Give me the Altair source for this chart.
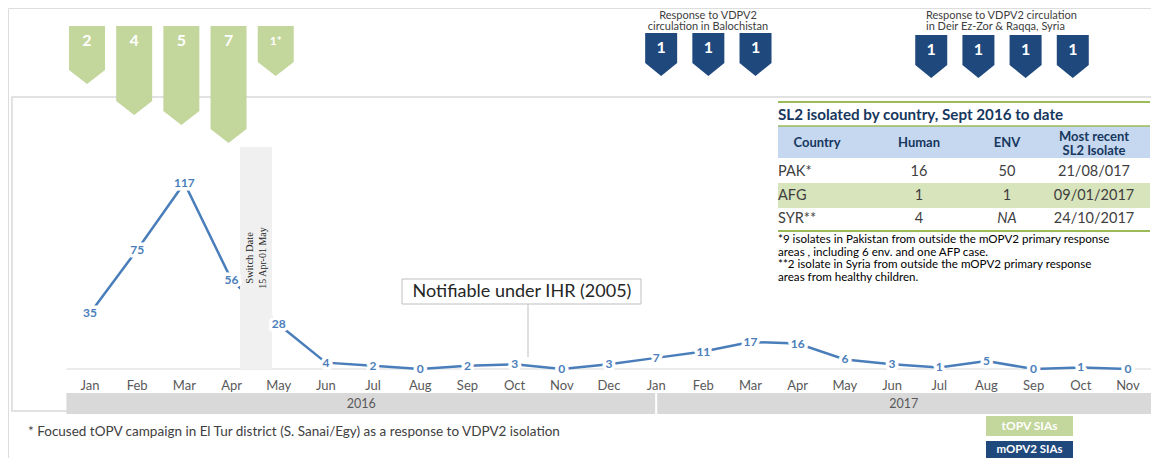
import altair as alt
import pandas as pd

# ---------------- data ----------------
months = ["Jan", "Feb", "Mar", "Apr", "May", "Jun", "Jul", "Aug", "Sep", "Oct", "Nov", "Dec",
          "Jan", "Feb", "Mar", "Apr", "May", "Jun", "Jul", "Aug", "Sep", "Oct", "Nov"]
cases = [35, 75, 117, 56, 28, 4, 2, 0, 2, 3, 0, 3, 7, 11, 17, 16, 6, 3, 1, 5, 0, 1, 0]
years = ["2016", "2017"]

topv_labels = ["2", "4", "5", "7", "1*"]
topv_month_idx = [0, 1, 2, 3, 4]
mopv_bal_labels = ["1", "1", "1"]
mopv_bal_month_idx = [12, 13, 14]
mopv_syr_labels = ["1", "1", "1", "1"]
mopv_syr_month_idx = [18, 19, 20, 21]

bal_caption = ["Response to VDPV2", "circulation in Balochistan"]
syr_caption = ["Response to VDPV2 circulation", "in Deir Ez-Zor & Raqqa, Syria"]
switch_lines = ["Switch Date", "15 Apr-01 May"]
notif_text = "Notifiable under IHR (2005)"

table_title = "SL2 isolated by country, Sept 2016 to date"
table_headers = ["Country", "Human", "ENV", "Most recent", "SL2 Isolate"]
table_countries = ["PAK*", "AFG", "SYR**"]
table_human = ["16", "1", "4"]
table_env = ["50", "1", "NA"]
table_recent = ["21/08/017", "09/01/2017", "24/10/2017"]
table_notes = ["*9 isolates in Pakistan from outside the mOPV2 primary response",
               "areas , including 6 env. and one AFP case.",
               "**2 isolate in Syria from outside the mOPV2 primary response",
               "areas from healthy children."]
footnote = "* Focused tOPV campaign in  El Tur district (S. Sanai/Egy) as a response to VDPV2 isolation"
legend_labels = ["tOPV SIAs", "mOPV2 SIAs"]

# ---------------- layout / style ----------------
W, H = 1143, 450
X0, STEP = 82.0, 47.18     # pixel of first month, pixels per month
Y0, PPU = 361.0, 1.59      # pixel of zero, pixels per case
BLUE_LINE = "#4a7ebb"
GREEN = "#c3d69b"
NAVY = "#1f497d"
FONT = "Lato"

xs = alt.Scale(domain=[-X0 / STEP, (W - X0) / STEP], nice=False, zero=False)
ys = alt.Scale(domain=[-(H - Y0) / PPU, Y0 / PPU], nice=False, zero=False)


def X(f):
    return alt.X(f, type="quantitative", scale=xs, axis=None)


def Yq(f):
    return alt.Y(f, type="quantitative", scale=ys, axis=None)


def text(t, x, y, **kw):
    kw.setdefault("font", FONT)
    return alt.Chart(pd.DataFrame({"t": [t]})).mark_text(**kw).encode(
        x=alt.value(x), y=alt.value(y), text="t:N")


def box(x1, x2, y1, y2, **kw):
    return alt.Chart(pd.DataFrame({"d": [0]})).mark_rect(**kw).encode(
        x=alt.value(x1), x2=alt.value(x2), y=alt.value(y1), y2=alt.value(y2))


def hrule(x1, x2, y, **kw):
    return alt.Chart(pd.DataFrame({"d": [0]})).mark_rule(**kw).encode(
        x=alt.value(x1), x2=alt.value(x2), y=alt.value(y))


def vrule(x, y1, y2, **kw):
    return alt.Chart(pd.DataFrame({"d": [0]})).mark_rule(**kw).encode(
        x=alt.value(x), y=alt.value(y1), y2=alt.value(y2))


layers = []

# chart area border
layers.append(box(4, 1150, 89, 403, fillOpacity=0, stroke="#d9d9d9", strokeWidth=1.5))

# year band
n = len(months)
df_year = pd.DataFrame({"year": years, "start": [-0.5, 12], "end": [12, n - 0.5]})
layers.append(alt.Chart(df_year).mark_rect(color="#d9d9d9").encode(
    x=X("start"), x2="end:Q", y=alt.value(385), y2=alt.value(406)))
layers.append(alt.Chart(pd.DataFrame({"m": [12]})).mark_rule(color="white", strokeWidth=2).encode(
    x=X("m"), y=alt.value(385), y2=alt.value(406)))
layers.append(alt.Chart(df_year).transform_calculate(mid="(datum.start + datum.end) / 2").mark_text(
    font=FONT, fontSize=12.5, color="#595959").encode(x=X("mid"), y=alt.value(396), text="year:N"))

# baseline
layers.append(alt.Chart(pd.DataFrame({"a": [-0.5], "b": [n - 0.5], "v": [0]})).mark_rule(
    color="#d9d9d9", strokeWidth=1).encode(x=X("a"), x2="b:Q", y=Yq("v")))

# line + month labels
df = pd.DataFrame({"m": list(range(n)), "month": months, "cases": cases,
                   "lab": [str(c) for c in cases]})
layers.append(alt.Chart(df).mark_line(color=BLUE_LINE, strokeWidth=2.5).encode(
    x=X("m"), y=Yq("cases")))
layers.append(alt.Chart(df).mark_text(font=FONT, fontSize=13, color="#595959").encode(
    x=X("m"), y=alt.value(378), text="month:N"))

# switch band
layers.append(alt.Chart(pd.DataFrame({"a": [3.18], "b": [3.86]})).mark_rect(color="#f0f0f0").encode(
    x=X("a"), x2="b:Q", y=alt.value(139), y2=alt.value(361)))
layers.append(text(switch_lines[0], 242, 250, font="Liberation Serif", fontSize=10.5, angle=270,
                   color="#262626"))
layers.append(text(switch_lines[1], 255, 250, font="Liberation Serif", fontSize=10, angle=270,
                   color="#262626"))

# data labels with white halo
layers.append(alt.Chart(df).mark_text(font=FONT, fontSize=12, fontWeight="bold", fill="white",
                                      stroke="white", strokeWidth=7, strokeJoin="round").encode(
    x=X("m"), y=Yq("cases"), text="lab:N"))
layers.append(alt.Chart(df).mark_text(font=FONT, fontSize=12, fontWeight="bold", color="#4a7ebb").encode(
    x=X("m"), y=Yq("cases"), text="lab:N"))

# notifiable box
layers.append(vrule(520, 296, 349, color="#bfbfbf", strokeWidth=1))
layers.append(box(394, 633, 271, 296, fill="white", stroke="#bfbfbf", strokeWidth=1))
layers.append(text(notif_text, 514, 284, fontSize=18, color="#262626"))

# table
TX0, TX1 = 770, 1142
HEAD = "#17375e"
layers.append(hrule(TX0, TX1, 94, color="#9bbb59", strokeWidth=2))
layers.append(text(table_title, TX0, 107, align="left", fontSize=15.2, fontWeight="bold", color=HEAD))
layers.append(box(TX0, TX1, 118, 150, fill="#c5d8f0"))
layers.append(hrule(TX0, TX1, 118, color="#9bbb59", strokeWidth=1.5))
layers.append(box(TX0, TX1, 175, 200, fill="#d8e4bc"))
layers.append(hrule(TX0, TX1, 223, color="#9bbb59", strokeWidth=2))
col_x = [809, 911, 999, 1086]
hk = dict(fontSize=13, fontWeight="bold", color=HEAD)
layers.append(text(table_headers[0], col_x[0], 135, **hk))
layers.append(text(table_headers[1], col_x[1], 135, **hk))
layers.append(text(table_headers[2], col_x[2], 135, **hk))
layers.append(text(table_headers[3], col_x[3], 129, **hk))
layers.append(text(table_headers[4], col_x[3], 143, **hk))
row_y = [164, 188, 211]
rk = dict(fontSize=14.5, color="#404040")
for i in range(len(table_countries)):
    layers.append(text(table_countries[i], TX0, row_y[i], align="left", **rk))
    layers.append(text(table_human[i], col_x[1], row_y[i], **rk))
    layers.append(text(table_env[i], col_x[2], row_y[i],
                       fontStyle="italic" if table_env[i] == "NA" else "normal", **rk))
    layers.append(text(table_recent[i], col_x[3], row_y[i], **rk))
note_y = [232, 244.5, 257, 269.5]
for i, line in enumerate(table_notes):
    layers.append(text(line, TX0, note_y[i], align="left", fontSize=11.6, color="#000000"))

# tOPV pentagons (green)
green_len = [44, 75, 85, 103, 36]
GW = 36
g_half = GW / 2
g_paths = [f"M-1,0L1,0L1,{L / g_half:.3f}L0,{(L + 14) / g_half:.3f}L-1,{L / g_half:.3f}Z" for L in green_len]
df_g = pd.DataFrame({"m": topv_month_idx, "lab": topv_labels, "path": g_paths})
layers.append(alt.Chart(df_g).mark_point(filled=True, opacity=1, size=GW ** 2, color=GREEN,
                                         strokeWidth=0, xOffset=-3).encode(
    x=X("m"), y=alt.value(18), shape=alt.Shape("path:N", scale=None, legend=None)))
layers.append(alt.Chart(df_g).mark_text(font=FONT, fontWeight="bold", color="white", dx=-3).encode(
    x=X("m"), y=alt.value(33), text="lab:N",
    size=alt.condition("datum.lab == '1*'", alt.value(12), alt.value(16))))

# mOPV2 pentagons (blue)
BW = 32
b_path = "M-1,0L1,0L1,1.875L0,2.6875L-1,1.875Z"
df_b = pd.DataFrame({"m": mopv_bal_month_idx, "lab": mopv_bal_labels})
df_s = pd.DataFrame({"m": mopv_syr_month_idx, "lab": mopv_syr_labels})
for d, off, top in [(df_b, 5, 25), (df_s, -8, 27)]:
    layers.append(alt.Chart(d).mark_point(filled=True, opacity=1, size=BW ** 2, color=NAVY,
                                          strokeWidth=0, shape=b_path, xOffset=off).encode(
        x=X("m"), y=alt.value(top)))
    layers.append(alt.Chart(d).mark_text(font=FONT, fontWeight="bold", color="white", fontSize=16,
                                         dx=off).encode(
        x=X("m"), y=alt.value(top + 15), text="lab:N"))

cap = dict(fontSize=11, color="#404040")
layers.append(text(bal_caption[0], 700, 7.5, **cap))
layers.append(text(bal_caption[1], 700, 18.5, **cap))
layers.append(text(syr_caption[0], 918, 7.5, align="left", **cap))
layers.append(text(syr_caption[1], 918, 18.5, align="left", **cap))

# footnote and legend
layers.append(text(footnote, 20, 424, align="left", fontSize=13.5, color="#404040"))
layers.append(box(978, 1065, 408, 428, fill=GREEN))
layers.append(text(legend_labels[0], 1021.5, 418, fontSize=12, fontWeight="bold", color="white"))
layers.append(box(978, 1065, 433, 450, fill=NAVY))
layers.append(text(legend_labels[1], 1021.5, 441.5, fontSize=11.5, fontWeight="bold", color="white"))

chart = alt.layer(*layers).properties(
    width=W, height=H, padding=0, autosize=alt.AutoSizeParams(type="none")
).configure_view(stroke=None).configure(font=FONT)

chart.save("out.html", embed_options={"renderer": "svg", "actions": False})
